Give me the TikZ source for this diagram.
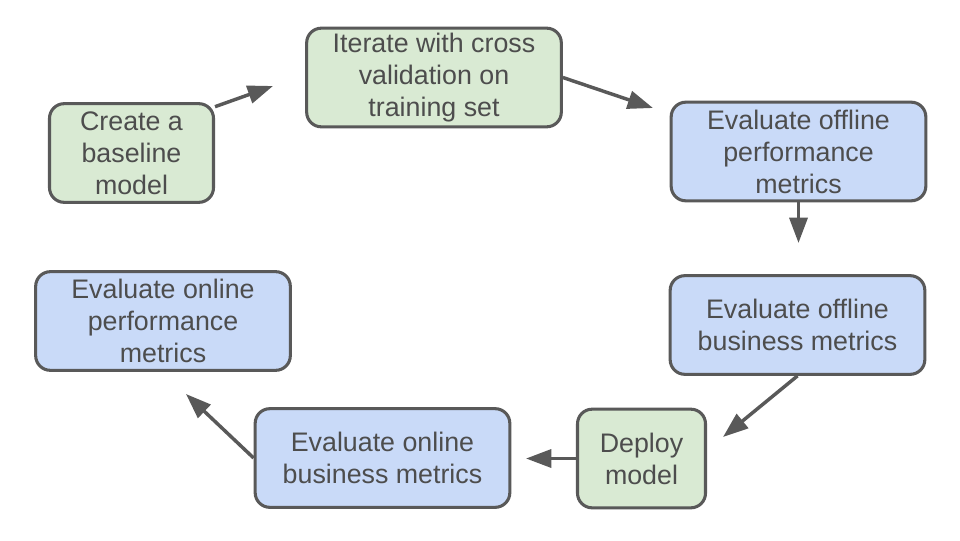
\documentclass[tikz,border=0pt]{standalone}
\usepackage{fontspec}
\setmainfont{Liberation Sans}
\usetikzlibrary{arrows.meta}
\definecolor{stepgreen}{HTML}{D9EAD3}
\definecolor{stepblue}{HTML}{C9DAF8}
\definecolor{rim}{HTML}{595959}
\definecolor{ink}{HTML}{4D4D4D}
\begin{document}
\begin{tikzpicture}[x=0.75pt,y=-0.75pt,inner sep=0,
	box/.style={draw=rim,line width=2.3pt,rounded corners=11pt,align=center,text=ink,
		minimum width=191pt,minimum height=74pt,font=\fontsize{20.1}{24}\selectfont},
	train/.style={box,fill=stepgreen},
	evalbox/.style={box,fill=stepblue},
	flow/.style={draw=rim,line width=2.6pt,-{Triangle[length=19pt,width=13.5pt]}}]
		\useasboundingbox (0,0) rectangle (960,540);
		\node[train,minimum width=123pt] (base) at (131.5,153) {Create a\\baseline\\model};
		\node[train] (iter) at (434,77.5) {Iterate with cross\\validation on\\training set};
		\node[evalbox] (offperf) at (798.5,151.5) {Evaluate offline\\performance\\metrics};
		\node[evalbox] (offbiz) at (797.5,325) {Evaluate offline\\business metrics};
		\node[train,minimum width=96pt] (deploy) at (641.5,458.5) {Deploy\\model};
		\node[evalbox] (onbiz) at (382.5,458) {Evaluate online\\business metrics};
		\node[evalbox] (onperf) at (163,321) {Evaluate online\\performance\\metrics};
		% free arrow ends
		\coordinate (t1) at (273,86);
		\coordinate (t2) at (653,108);
		\coordinate (t3) at (798.5,243);
		\coordinate (t4) at (723,437);
		\coordinate (t5) at (526,458.5);
		\coordinate (t6) at (186,394);
		\draw[flow] (base.29)--(t1);
		\draw[flow] (iter.east)--(t2);
		\draw[flow] (offperf.south)--(t3);
		\draw[flow] (offbiz.south)--(t4);
		\draw[flow] (deploy.west)--(t5);
		\draw[flow] (onbiz.west)--(t6);
	\end{tikzpicture}
\end{document}
